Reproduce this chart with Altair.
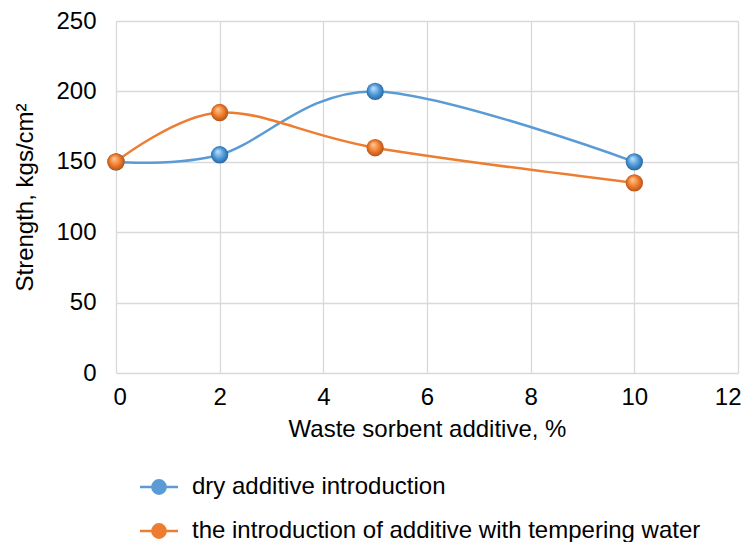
import altair as alt
import pandas as pd

x_vals = [0, 2, 5, 10]
dry = [150, 155, 200, 150]
tempering = [150, 185, 160, 135]
series_names = ["dry additive introduction", "the introduction of additive with tempering water"]
colors = ["#5b9bd5", "#ed7d31"]

df = pd.DataFrame({
    "x": x_vals * 2,
    "y": dry + tempering,
    "series": [series_names[0]] * 4 + [series_names[1]] * 4,
})

FONT = "Liberation Sans"

legend_path = "M-2,0L-0.7,0M0.7,0L2,0M0.7,0A0.7,0.7 0 1,1 -0.7,0A0.7,0.7 0 1,1 0.7,0Z"

legend_kw = dict(title=None, orient="none", legendX=31, legendY=454,
                 direction="vertical", symbolType=legend_path,
                 symbolSize=361, symbolStrokeWidth=2.5,
                 symbolOpacity=1, labelFontSize=24, labelFont=FONT,
                 labelColor="#000000", rowPadding=20, labelOffset=21,
                 labelLimit=700)

cscale = alt.Scale(domain=series_names, range=colors)

base = alt.Chart(df)

xenc = alt.X("x:Q", scale=alt.Scale(domain=[0, 12], nice=False),
             axis=alt.Axis(values=[0, 2, 4, 6, 8, 10, 12], title="Waste sorbent additive, %",
                           labelFlush=True, labelFlushOffset=3))
yenc = alt.Y("y:Q", scale=alt.Scale(domain=[0, 250], nice=False),
             axis=alt.Axis(values=[0, 50, 100, 150, 200, 250], title="Strength, kgs/cm²"))

lines = base.mark_line(interpolate="cardinal", tension=0, strokeWidth=2.5).encode(
    x=xenc, y=yenc,
    stroke=alt.Stroke("series:N", scale=cscale, legend=alt.Legend(**legend_kw)),
)

legend_helper = base.mark_circle(size=0, opacity=1).encode(
    x="x:Q", y="y:Q",
    fill=alt.Fill("series:N", scale=cscale, legend=alt.Legend(**legend_kw)),
)

def grad(c_light, c_mid, c_dark):
    return {
        "gradient": "radial",
        "x1": 0.38, "y1": 0.3, "r1": 0.0,
        "x2": 0.5, "y2": 0.5, "r2": 0.55,
        "stops": [
            {"offset": 0.0, "color": c_light},
            {"offset": 0.55, "color": c_mid},
            {"offset": 1.0, "color": c_dark},
        ],
    }

pts_dry = base.transform_filter(alt.datum.series == series_names[0]).mark_circle(
    size=300, opacity=1, fill=grad("#c4e3fc", "#4f9ada", "#215f98")).encode(x="x:Q", y="y:Q")
pts_tmp = base.transform_filter(alt.datum.series == series_names[1]).mark_circle(
    size=300, opacity=1, fill=grad("#ffcc99", "#ef7d2e", "#ad4b12")).encode(x="x:Q", y="y:Q")

chart = alt.layer(lines, legend_helper, pts_dry, pts_tmp).properties(
    width=622, height=352, background="white",
    padding={"left": 5, "top": 1, "right": 0, "bottom": 0},
).configure_view(stroke=None).configure_axis(
    labelFont=FONT, titleFont=FONT, labelFontSize=24, titleFontSize=24,
    labelColor="#000000", titleColor="#000000", titleFontWeight="normal",
    gridColor="#d9d9d9", gridWidth=1.3, domain=False, ticks=False, grid=True,
).configure_axisX(labelPadding=12, titlePadding=8).configure_axisY(
    labelPadding=20, titlePadding=18
)

chart.save("out.html", embed_options={"renderer": "svg", "actions": False})
